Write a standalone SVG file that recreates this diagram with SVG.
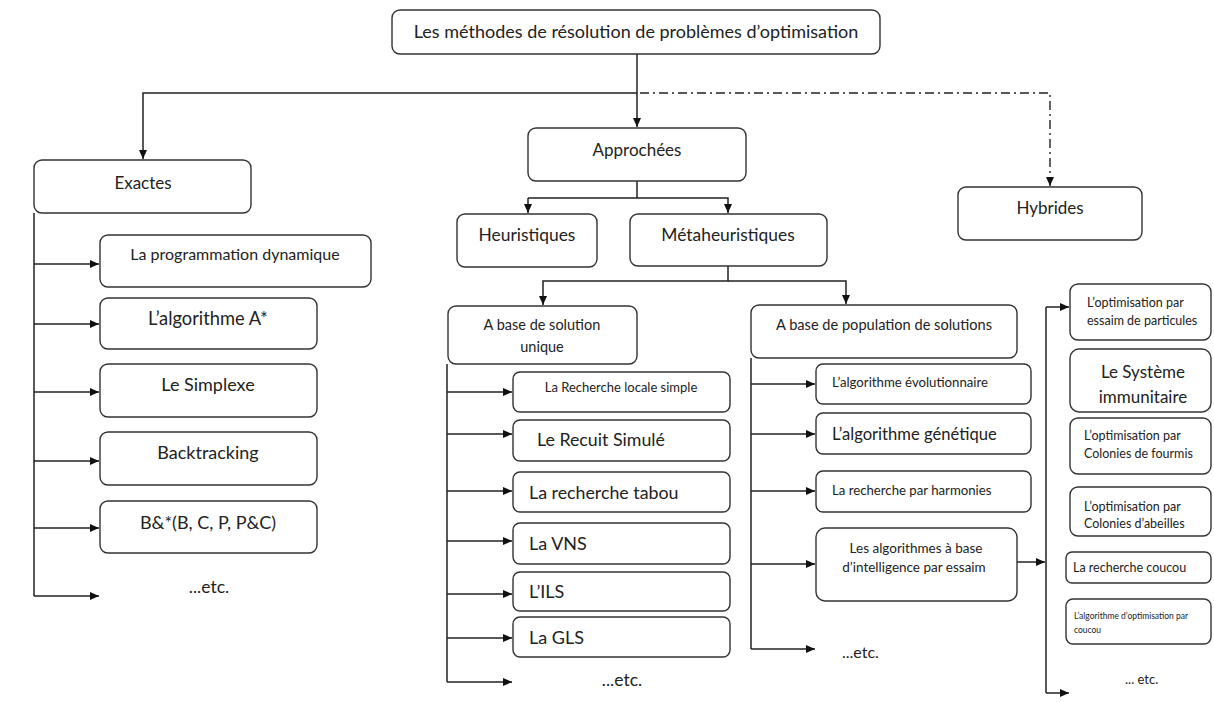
<svg xmlns="http://www.w3.org/2000/svg" width="1214" height="702" viewBox="0 0 1214 702">
<style>
.box{fill:#fff;stroke:#333;stroke-width:1.4}
.c{fill:none;stroke:#222;stroke-width:1.5}
.dd{fill:none;stroke:#222;stroke-width:1.4;stroke-dasharray:9 4 2 4}
text{font-family:Lato,"Liberation Sans",sans-serif;fill:#222}
.m{text-anchor:middle}
</style>
<defs>
<marker id="ah" markerUnits="userSpaceOnUse" markerWidth="10" markerHeight="10" refX="9" refY="5" orient="auto">
<path d="M0,1 L9,5 L0,9 z" fill="#111"/>
</marker>
</defs>
<g id="connectors">
<path class="c" d="M637,54 V127" marker-end="url(#ah)"/>
<path class="c" d="M637,93 H143 V159" marker-end="url(#ah)"/>
<path class="dd" d="M640,93 H1050 V186" marker-end="url(#ah)"/>
<path class="c" d="M637,181 V198 M637,198 H528"/>
<path class="c" d="M528,198 V213" marker-end="url(#ah)"/>
<path class="c" d="M637,198 H728 V213" marker-end="url(#ah)"/>
<path class="c" d="M728,266 V281 H543 V305" marker-end="url(#ah)"/>
<path class="c" d="M728,281 H846 V304" marker-end="url(#ah)"/>
<path class="c" d="M34,213 V596"/>
<path class="c" d="M34,264 H99" marker-end="url(#ah)"/>
<path class="c" d="M34,324 H99" marker-end="url(#ah)"/>
<path class="c" d="M34,392 H99" marker-end="url(#ah)"/>
<path class="c" d="M34,461 H99" marker-end="url(#ah)"/>
<path class="c" d="M34,528 H99" marker-end="url(#ah)"/>
<path class="c" d="M34,596 H99" marker-end="url(#ah)"/>
<path class="c" d="M447,364 V682"/>
<path class="c" d="M447,392 H512" marker-end="url(#ah)"/>
<path class="c" d="M447,434 H512" marker-end="url(#ah)"/>
<path class="c" d="M447,491 H512" marker-end="url(#ah)"/>
<path class="c" d="M447,541 H512" marker-end="url(#ah)"/>
<path class="c" d="M447,594 H512" marker-end="url(#ah)"/>
<path class="c" d="M447,638 H512" marker-end="url(#ah)"/>
<path class="c" d="M447,682 H512" marker-end="url(#ah)"/>
<path class="c" d="M751,358 V649"/>
<path class="c" d="M751,384 H815" marker-end="url(#ah)"/>
<path class="c" d="M751,434 H815" marker-end="url(#ah)"/>
<path class="c" d="M751,491 H815" marker-end="url(#ah)"/>
<path class="c" d="M751,564 H815" marker-end="url(#ah)"/>
<path class="c" d="M751,649 H815" marker-end="url(#ah)"/>
<path class="c" d="M1017,562 H1045" marker-end="url(#ah)"/>
<path class="c" d="M1046,307 V693"/>
<path class="c" d="M1046,307 H1069" marker-end="url(#ah)"/>
<path class="c" d="M1046,693 H1069" marker-end="url(#ah)"/>
</g>
<g id="root"><rect class="box" x="392" y="10" width="488" height="44" rx="8"/><text class="m" x="636" y="38" font-size="18">Les méthodes de résolution de problèmes d’optimisation</text></g>
<g id="exactes"><rect class="box" x="34" y="160" width="217" height="53" rx="8"/><text class="m" x="143" y="189" font-size="17">Exactes</text></g>
<g id="approchees"><rect class="box" x="528" y="128" width="218" height="53" rx="8"/><text class="m" x="637" y="156" font-size="17">Approchées</text></g>
<g id="hybrides"><rect class="box" x="958" y="187" width="184" height="53" rx="8"/><text class="m" x="1050" y="214" font-size="17">Hybrides</text></g>
<g id="heuristiques"><rect class="box" x="457" y="214" width="140" height="53" rx="8"/><text class="m" x="527" y="241" font-size="17.4">Heuristiques</text></g>
<g id="metaheuristiques"><rect class="box" x="630" y="214" width="197" height="52" rx="8"/><text class="m" x="728" y="241" font-size="17.4">Métaheuristiques</text></g>
<g id="prog-dyn"><rect class="box" x="100" y="235" width="271" height="52" rx="8"/><text class="m" x="235" y="260" font-size="16">La programmation dynamique</text></g>
<g id="astar"><rect class="box" x="100" y="298" width="217" height="51" rx="8"/><text class="m" x="208" y="325" font-size="18.3">L’algorithme A*</text></g>
<g id="simplexe"><rect class="box" x="100" y="364" width="217" height="53" rx="8"/><text class="m" x="208" y="391" font-size="18">Le Simplexe</text></g>
<g id="backtracking"><rect class="box" x="100" y="432" width="217" height="53" rx="8"/><text class="m" x="208" y="459" font-size="18">Backtracking</text></g>
<g id="bstar"><rect class="box" x="100" y="501" width="217" height="52" rx="8"/><text class="m" x="208" y="529" font-size="18">B&amp;*(B, C, P, P&amp;C)</text></g>
<g id="etc1"><text class="m" x="209" y="593" font-size="17.5">...etc.</text></g>
<g id="sol-unique"><rect class="box" x="448" y="306" width="189" height="58" rx="8"/><text class="m" x="542" y="330" font-size="14.5">A base de solution</text><text class="m" x="542" y="352" font-size="14.5">unique</text></g>
<g id="rls"><rect class="box" x="513" y="372" width="217" height="40" rx="7"/><text class="m" x="621" y="392" font-size="13">La Recherche locale simple</text></g>
<g id="recuit"><rect class="box" x="513" y="420" width="217" height="41" rx="7"/><text x="537" y="446" font-size="17.8">Le Recuit Simulé</text></g>
<g id="tabou"><rect class="box" x="513" y="472" width="217" height="40" rx="7"/><text x="529" y="499" font-size="17.8">La recherche tabou</text></g>
<g id="vns"><rect class="box" x="513" y="523" width="217" height="41" rx="7"/><text x="529" y="550" font-size="18">La VNS</text></g>
<g id="ils"><rect class="box" x="513" y="572" width="217" height="39" rx="7"/><text x="529" y="598" font-size="18">L’ILS</text></g>
<g id="gls"><rect class="box" x="513" y="617" width="217" height="40" rx="7"/><text x="529" y="644" font-size="18">La GLS</text></g>
<g id="etc2"><text class="m" x="622" y="686" font-size="17.5">...etc.</text></g>
<g id="population"><rect class="box" x="751" y="305" width="266" height="53" rx="8"/><text class="m" x="884" y="330" font-size="14.6">A base de population de solutions</text></g>
<g id="evol"><rect class="box" x="816" y="364" width="215" height="40" rx="7"/><text x="832" y="387" font-size="13.2">L’algorithme évolutionnaire</text></g>
<g id="genetique"><rect class="box" x="816" y="413" width="215" height="41" rx="7"/><text x="832" y="440" font-size="16.6">L’algorithme génétique</text></g>
<g id="harmonies"><rect class="box" x="816" y="471" width="215" height="41" rx="7"/><text x="832" y="495" font-size="13.2">La recherche par harmonies</text></g>
<g id="essaim"><rect class="box" x="816" y="528" width="201" height="73" rx="9"/><text class="m" x="916" y="553" font-size="13.5">Les algorithmes à base</text><text class="m" x="914" y="572" font-size="13.5">d’intelligence par essaim</text></g>
<g id="etc3"><text x="842" y="658" font-size="16">...etc.</text></g>
<g id="pso"><rect class="box" x="1070" y="284" width="141" height="56" rx="8"/><text x="1087" y="307" font-size="12.5">L’optimisation par</text><text x="1087" y="325" font-size="12.5">essaim de particules</text></g>
<g id="immun"><rect class="box" x="1070" y="349" width="141" height="63" rx="9"/><text class="m" x="1143" y="378" font-size="17">Le Système</text><text class="m" x="1143" y="403" font-size="17">immunitaire</text></g>
<g id="fourmis"><rect class="box" x="1070" y="418" width="141" height="56" rx="8"/><text x="1084" y="440" font-size="12.5">L’optimisation  par</text><text x="1084" y="458" font-size="12.5">Colonies de fourmis</text></g>
<g id="abeilles"><rect class="box" x="1070" y="487" width="141" height="49" rx="8"/><text x="1084" y="511" font-size="12.5">L’optimisation  par</text><text x="1084" y="528" font-size="12.5">Colonies d’abeilles</text></g>
<g id="coucou"><rect class="box" x="1066" y="552" width="145" height="31" rx="6"/><text x="1073" y="572" font-size="12.5">La recherche coucou</text></g>
<g id="algo-coucou"><rect class="box" x="1066" y="599" width="145" height="45" rx="7"/><text x="1074" y="619" font-size="8.5">L’algorithme d’optimisation par</text><text x="1074" y="633" font-size="8.5">coucou</text></g>
<g id="etc4"><text x="1125" y="684" font-size="13">... etc.</text></g>
</svg>
